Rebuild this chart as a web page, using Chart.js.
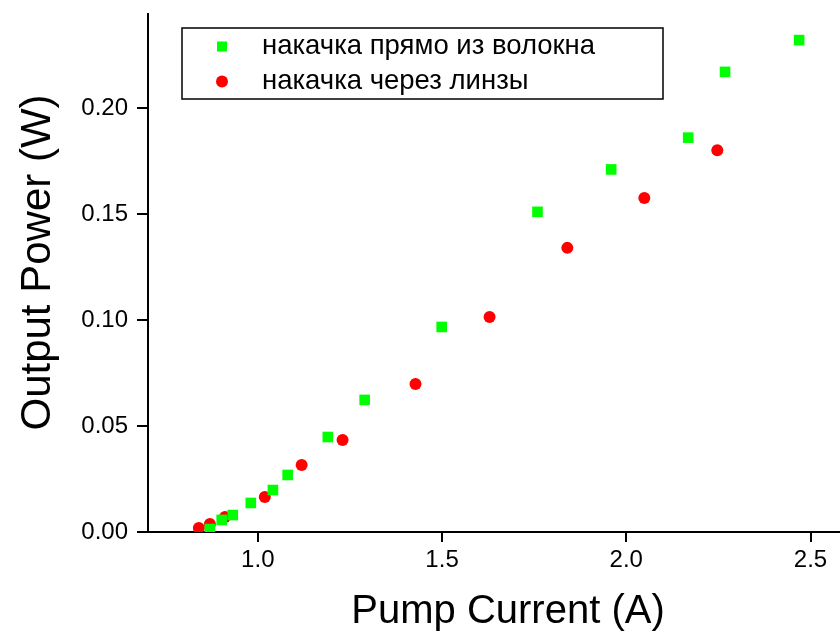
<!DOCTYPE html>
<html>
<head>
<meta charset="utf-8">
<script src="https://cdn.jsdelivr.net/npm/chart.js@4"></script>
<style>
  html, body { margin: 0; padding: 0; background: #fff; }
  #wrap { width: 840px; height: 637px; position: relative; }
</style>
</head>
<body>
<div id="wrap"><canvas id="powerChart"></canvas></div>
<script>
// накачка прямо из волокна (зелёные квадраты)
const fiberCurrent = [0.870, 0.902, 0.932, 0.981, 1.041, 1.081, 1.190, 1.290, 1.499, 1.759, 1.959, 2.168, 2.268, 2.469];
const fiberPower   = [0.0014, 0.0057, 0.0080, 0.0137, 0.0198, 0.0269, 0.0448, 0.0623, 0.0967, 0.1510, 0.1710, 0.1860, 0.2170, 0.2320];

// накачка через линзы (красные кружки)
const lensCurrent = [0.840, 0.870, 0.911, 1.019, 1.119, 1.230, 1.428, 1.629, 1.840, 2.049, 2.247];
const lensPower   = [0.0019, 0.0038, 0.0071, 0.0165, 0.0316, 0.0434, 0.0698, 0.1014, 0.1340, 0.1575, 0.1800];

const xTicks = [1.0, 1.5, 2.0, 2.5];
const yTicks = [0.00, 0.05, 0.10, 0.15, 0.20];

const seriesLabels = ['накачка прямо из волокна', 'накачка через линзы'];

const FONT = "'Liberation Sans', Arial, sans-serif";

function toPoints(xs, ys) {
    return xs.map((x, i) => ({ x: x, y: ys[i] }));
}

// легенда в рамке внутри области графика
const boxLegend = {
    id: 'boxLegend',
    afterDraw(chart) {
        const ctx = chart.ctx;
        const left = 182, top = 28, w = 481, h = 71;
        ctx.save();
        ctx.strokeStyle = '#000';
        ctx.lineWidth = 1.5;
        ctx.strokeRect(left, top, w, h);
        ctx.font = '27.5px ' + FONT;
        ctx.textBaseline = 'middle';
        chart.data.datasets.forEach((ds, i) => {
            const cy = top + 18.5 + i * 35;
            ctx.fillStyle = ds.backgroundColor;
            if (ds.pointStyle === 'rect') {
                ctx.fillRect(222 - 5, cy - 5, 10, 10);
            } else {
                ctx.beginPath();
                ctx.arc(222, cy, 6, 0, Math.PI * 2);
                ctx.fill();
            }
            ctx.fillStyle = '#000';
            ctx.fillText(ds.label, 262, cy);
        });
        ctx.restore();
    }
};

new Chart(document.getElementById('powerChart'), {
    type: 'scatter',
    data: {
        datasets: [
            {
                label: seriesLabels[0],
                data: toPoints(fiberCurrent, fiberPower),
                pointStyle: 'rect',
                pointRadius: 7.5,
                backgroundColor: '#00ff00',
                borderWidth: 0
            },
            {
                label: seriesLabels[1],
                data: toPoints(lensCurrent, lensPower),
                pointStyle: 'circle',
                pointRadius: 6,
                backgroundColor: '#ff0000',
                borderWidth: 0
            }
        ]
    },
    options: {
        responsive: true,
        maintainAspectRatio: false,
        animation: false,
        layout: { autoPadding: false, padding: { top: 14, right: 0, bottom: 0, left: 0 } },
        plugins: {
            legend: { display: false },
            tooltip: { enabled: false }
        },
        scales: {
            x: {
                type: 'linear',
                min: 0.702,
                max: 2.58,
                afterBuildTicks: s => { s.ticks = xTicks.map(v => ({ value: v })); },
                afterFit: s => { s.height = 105; s.paddingLeft = 0; s.paddingRight = 0; },
                border: { color: '#000', width: 2 },
                grid: { drawOnChartArea: false, drawTicks: true, tickLength: 10, color: '#000', lineWidth: 2 },
                ticks: {
                    color: '#000',
                    padding: 4,
                    maxRotation: 0,
                    font: { family: FONT, size: 24 },
                    callback: v => v.toFixed(1)
                },
                title: {
                    display: true,
                    text: '\u2002\u2009Pump Current (A)',
                    color: '#000',
                    font: { family: FONT, size: 40 },
                    padding: { top: 0, bottom: 1 }
                }
            },
            y: {
                type: 'linear',
                min: 0,
                max: 0.2443,
                afterBuildTicks: s => { s.ticks = yTicks.map(v => ({ value: v })); },
                afterFit: s => { s.width = 148; s.paddingTop = 0; s.paddingBottom = 0; },
                border: { color: '#000', width: 2 },
                grid: { drawOnChartArea: false, drawTicks: true, tickLength: 11, color: '#000', lineWidth: 2 },
                ticks: {
                    color: '#000',
                    padding: 9,
                    font: { family: FONT, size: 24 },
                    callback: v => v.toFixed(2)
                },
                title: {
                    display: true,
                    text: '\u2002Output Power (W)',
                    color: '#000',
                    font: { family: FONT, size: 42 },
                    padding: { top: 13, bottom: 0 }
                }
            }
        }
    },
    plugins: [boxLegend]
});
</script>
</body>
</html>
